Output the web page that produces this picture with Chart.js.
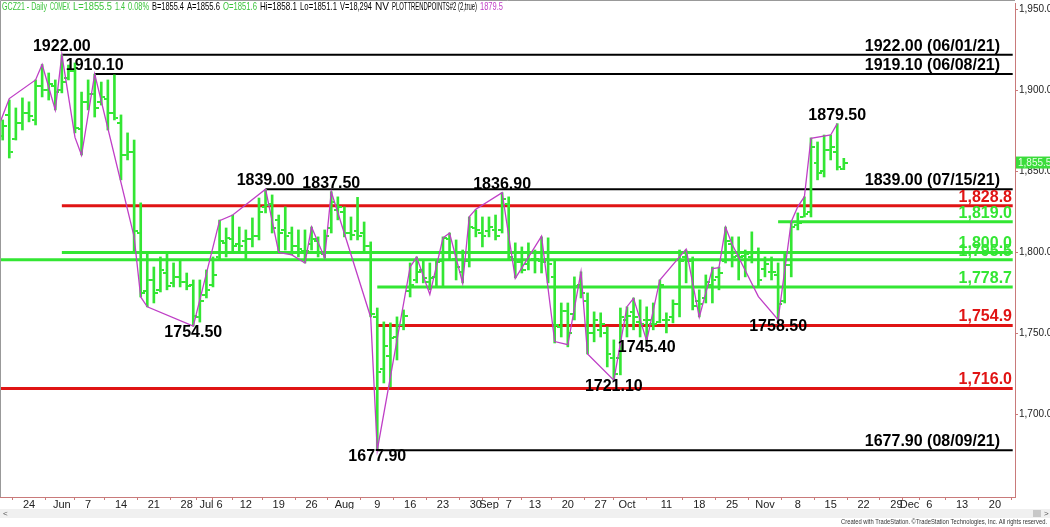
<!DOCTYPE html>
<html>
<head>
<meta charset="utf-8">
<script src="https://cdn.jsdelivr.net/npm/chart.js@4.4.1/dist/chart.umd.min.js"></script>
<style>
  html, body { margin: 0; padding: 0; background: #fff; }
</style>
</head>
<body>
<canvas id="gcChart" width="1050" height="527"></canvas>
<script>
// GCZ21 daily bars. x is a trading-day index, 0 = May 24
const firstBar = -4;
const opens = [
  1872, 1885, 1870, 1880, 1886, 1882, 1903, 1900, 1903, 1900,
  1908, 1912, 1876, 1893, 1898, 1893, 1895, 1886, 1880, 1860,
  1862, 1812, 1776, 1783, 1777, 1787, 1781, 1785, 1782, 1780,
  1760, 1774, 1780, 1797, 1806, 1808, 1805, 1807, 1808, 1810,
  1828, 1830, 1820, 1814, 1812, 1804, 1801, 1805, 1807, 1799,
  1815, 1826, 1825, 1812, 1813, 1812, 1804, 1760, 1728, 1736,
  1748, 1755, 1776, 1783, 1789, 1782, 1785, 1795, 1808, 1796,
  1788, 1795, 1815, 1812, 1813, 1814, 1814, 1830, 1796, 1794,
  1793, 1796, 1795, 1796, 1785, 1754, 1764, 1762, 1780, 1770,
  1750, 1752, 1750, 1735, 1735, 1758, 1763, 1757, 1758, 1756,
  1757, 1758, 1760, 1768, 1797, 1795, 1770, 1772, 1780, 1785,
  1795, 1805, 1798, 1798, 1797, 1800, 1790, 1788, 1786, 1770,
  1792, 1817, 1822, 1825, 1855, 1850, 1863, 1862, 1851.6
];
const highs = [
  1881.8, 1894.1, 1889.2, 1895.4, 1893.0, 1906.5, 1916.0, 1910.8, 1906.5, 1922.0,
  1915.7, 1917.0, 1899.0, 1906.5, 1910.1, 1905.2, 1906.5, 1909.6, 1884.9, 1873.8,
  1869.4, 1830.6, 1799.7, 1791.0, 1797.2, 1799.7, 1793.5, 1795.4, 1787.3, 1783.0,
  1783.0, 1789.2, 1797.2, 1820.0, 1815.1, 1823.1, 1815.7, 1813.9, 1821.3, 1833.6,
  1839.0, 1835.5, 1823.1, 1828.1, 1815.7, 1813.9, 1813.9, 1815.7, 1809.6, 1813.9,
  1837.5, 1834.3, 1828.1, 1821.9, 1834.0, 1818.8, 1806.5, 1765.7, 1757.1, 1756.5,
  1760.2, 1764.5, 1793.5, 1797.2, 1795.4, 1793.5, 1795.4, 1809.6, 1812.0, 1807.7,
  1801.5, 1821.9, 1826.2, 1821.9, 1821.9, 1823.1, 1836.9, 1834.3, 1805.9, 1803.4,
  1805.9, 1801.5, 1809.6, 1809.0, 1795.4, 1768.8, 1768.8, 1784.9, 1788.0, 1775.0,
  1763.3, 1762.7, 1754.0, 1746.0, 1765.7, 1766.4, 1771.9, 1770.7, 1766.4, 1768.8,
  1783.0, 1762.7, 1770.7, 1801.5, 1801.5, 1797.2, 1776.9, 1786.1, 1791.0, 1791.0,
  1815.7, 1809.6, 1809.6, 1801.5, 1812.7, 1802.8, 1797.2, 1797.2, 1793.5, 1799.7,
  1818.8, 1824.4, 1834.3, 1870.7, 1868.2, 1872.5, 1872.5, 1879.5, 1858.1
];
const lows = [
  1869.4, 1858.3, 1869.4, 1875.6, 1880.6, 1878.7, 1896.0, 1894.1, 1888.0, 1898.5,
  1906.5, 1873.8, 1860.2, 1888.0, 1883.6, 1891.0, 1875.6, 1881.8, 1844.8, 1857.1,
  1799.7, 1772.5, 1766.4, 1768.8, 1775.6, 1776.9, 1778.7, 1778.7, 1776.9, 1754.5,
  1757.0, 1771.9, 1778.7, 1795.4, 1797.2, 1799.7, 1799.7, 1795.4, 1803.4, 1807.7,
  1824.4, 1812.0, 1799.7, 1801.5, 1798.5, 1797.2, 1793.5, 1801.5, 1797.2, 1796.6,
  1812.0, 1820.1, 1809.6, 1807.7, 1807.7, 1800.3, 1760.2, 1677.9, 1719.4, 1717.0,
  1733.6, 1752.2, 1772.5, 1781.2, 1781.2, 1776.9, 1778.7, 1778.7, 1795.4, 1783.0,
  1781.2, 1791.0, 1809.6, 1803.4, 1809.6, 1807.7, 1812.0, 1795.4, 1784.3, 1787.3,
  1789.2, 1787.3, 1787.3, 1781.2, 1744.1, 1747.8, 1741.7, 1758.3, 1771.9, 1737.3,
  1744.8, 1747.8, 1729.3, 1721.1, 1724.4, 1747.8, 1752.2, 1747.8, 1745.4, 1752.2,
  1756.5, 1750.3, 1756.5, 1760.2, 1781.2, 1764.5, 1760.2, 1768.8, 1768.8, 1776.9,
  1793.5, 1791.0, 1783.0, 1784.9, 1793.5, 1778.7, 1784.9, 1783.0, 1758.5, 1768.8,
  1784.9, 1813.9, 1821.9, 1821.9, 1844.8, 1846.6, 1857.1, 1850.9, 1851.1
];
const closes = [
  1878, 1862, 1880, 1886, 1884, 1903, 1900, 1904, 1899, 1905,
  1912, 1877, 1893, 1898, 1889, 1896, 1886, 1883, 1860, 1862,
  1813, 1775, 1783, 1775, 1789, 1779, 1785, 1782, 1779, 1761,
  1770, 1777, 1786, 1807, 1809, 1804, 1804, 1808, 1810, 1825,
  1829, 1815, 1812, 1810, 1804, 1802, 1801, 1808, 1800, 1810,
  1831, 1828, 1812, 1811, 1810, 1804, 1762, 1726, 1742, 1747,
  1755, 1761, 1780, 1788, 1784, 1784, 1794, 1809, 1800, 1791,
  1795, 1816, 1814, 1810, 1816, 1810, 1833, 1797, 1794, 1789,
  1800, 1796, 1794, 1793, 1755, 1764, 1750, 1779, 1775, 1750,
  1758, 1756, 1737, 1725, 1760, 1761, 1760, 1756, 1758, 1756,
  1780, 1758, 1768, 1795, 1795, 1767, 1768, 1782, 1783, 1787,
  1807, 1797, 1797, 1799, 1800, 1783, 1793, 1788, 1768, 1792,
  1816, 1818, 1824, 1865, 1849, 1863, 1865, 1853, 1855.5
];

// date axis
const tickDays = [0, 5, 9, 14, 19, 24, 27, 29, 33, 38, 43, 48, 53, 58, 63, 68, 70, 73, 77,
  82, 87, 91, 97, 102, 107, 112, 117, 122, 127, 132, 134, 137, 142, 147];
const tickLabels = ['24', 'Jun', '7', '14', '21', '28', 'Jul', '6', '12', '19', '26', 'Aug', '9',
  '16', '23', '30', 'Sep', '7', '13', '20', '27', 'Oct', '11', '18', '25', 'Nov', '8', '15', '22',
  '29', 'Dec', '6', '13', '20'];
const priceTicks = [1700, 1750, 1800, 1850, 1900, 1950];

// PLOTTRENDPOINTS zigzag
const zigDays = [-5, -3, 1, 2, 4, 5, 7, 8, 10, 16, 17, 18, 25, 29, 31, 36, 38, 40, 42, 43, 45, 46,
  52, 53, 58, 59, 61, 63, 64, 66, 67, 68, 72, 74, 78, 80, 82, 84, 85, 89, 91, 92, 94, 96, 100, 102,
  104, 105, 106, 107, 111, 114, 116, 117, 118, 119, 122, 123];
const zigPrices = [1874, 1895, 1906.5, 1916, 1888, 1922, 1871, 1860, 1910.1, 1809.6, 1772.5, 1766.4,
  1754.5, 1819.6, 1823.1, 1839, 1800, 1798.5, 1793.5, 1815.7, 1796.6, 1837.5, 1760, 1677.9, 1791,
  1797, 1774, 1809, 1812, 1781, 1822, 1826.7, 1836.9, 1784, 1810, 1745, 1743, 1788, 1737.3, 1721.1,
  1766.5, 1771.7, 1745.4, 1783, 1802, 1760, 1790, 1790.6, 1815.5, 1805, 1772.7, 1758.5, 1819, 1828.3,
  1834.4, 1870.5, 1872.5, 1879.5];

// labelled swing points
const swingDays = [5, 10, 36, 46, 25, 72, 53, 89, 94, 114, 123];
const swingPrices = [1922.00, 1910.10, 1839.00, 1837.50, 1754.50, 1836.90, 1677.90, 1721.10, 1745.40, 1758.50, 1879.50];
const swingIsHigh = [true, true, true, true, false, true, false, false, false, false, true];

// horizontal levels
const levelPrices = [1922.00, 1910.10, 1839.00, 1677.90, 1828.8, 1819.0, 1800.0, 1795.5, 1778.7, 1754.9, 1716.0];
const levelStart = [5, 10, 36, 53, 5, 114, 5, -6, 53, 53, -6];
const levelTexts = ['1922.00 (06/01/21)', '1919.10 (06/08/21)', '1839.00 (07/15/21)', '1677.90 (08/09/21)',
  '1,828.8', '1,819.0', '1,800.0', '1,795.5', '1,778.7', '1,754.9', '1,716.0'];
const levelKinds = ['swing', 'swing', 'swing', 'swing', 'red', 'green', 'green', 'green', 'green', 'red', 'red'];

const lastPrice = 1855.5;

const GREEN = '#33e633';
const RED = '#e01414';
const MAGENTA = '#bf3fc6';
const AXIS = '#c97a7a';
const levelEnd = 149.7;

const kindStyle = {
  swing: { color: '#000000', width: 2 },
  red: { color: RED, width: 3 },
  green: { color: GREEN, width: 3 }
};

function tickImage(side) {
  const c = document.createElement('canvas');
  c.width = 8;
  c.height = 2;
  const g = c.getContext('2d');
  g.fillStyle = GREEN;
  g.fillRect(side === 'open' ? 0 : 5, 0, 3, 2);
  return c;
}

const levelSets = levelPrices.map((p, i) => ({
  type: 'line',
  data: [{ x: levelStart[i], y: p }, { x: levelEnd, y: p }],
  borderColor: kindStyle[levelKinds[i]].color,
  borderWidth: kindStyle[levelKinds[i]].width,
  pointRadius: 0,
  order: 5
}));

const overlay = {
  id: 'overlay',
  beforeDraw(chart) {
    const ctx = chart.ctx;
    ctx.save();
    ctx.fillStyle = '#fff';
    ctx.fillRect(0, 0, chart.width, chart.height);
    ctx.restore();
  },
  afterDraw(chart) {
    const ctx = chart.ctx;
    const xs = chart.scales.x, ys = chart.scales.y;
    const area = chart.chartArea;
    ctx.save();

    // frame
    ctx.strokeStyle = '#999';
    ctx.lineWidth = 1;
    ctx.beginPath();
    ctx.moveTo(0.5, area.bottom);
    ctx.lineTo(0.5, 0.5);
    ctx.lineTo(area.right, 0.5);
    ctx.stroke();

    // level texts
    ctx.font = 'bold 16px Arial, "Liberation Sans", sans-serif';
    ctx.textAlign = 'right';
    ctx.textBaseline = 'alphabetic';
    levelPrices.forEach((p, i) => {
      const y = ys.getPixelForValue(p);
      const k = levelKinds[i];
      ctx.fillStyle = k === 'swing' ? '#000' : kindStyle[k].color;
      const xr = k === 'swing' ? area.right - 15 : area.right - 3;
      ctx.fillText(levelTexts[i], xr, y - 4);
    });

    // swing labels
    ctx.textAlign = 'center';
    ctx.fillStyle = '#000';
    swingDays.forEach((d, i) => {
      const x = xs.getPixelForValue(d);
      const y = ys.getPixelForValue(swingPrices[i]);
      ctx.fillText(swingPrices[i].toFixed(2), x, swingIsHigh[i] ? y - 4 : y + 11);
    });

    // last price box
    const ly = ys.getPixelForValue(lastPrice);
    ctx.fillStyle = '#3bdc3b';
    ctx.fillRect(area.right + 1, ly - 6, 34, 12);
    ctx.fillStyle = '#e8ffe8';
    ctx.font = '10px Arial, sans-serif';
    ctx.textAlign = 'left';
    ctx.textBaseline = 'middle';
    ctx.fillText(lastPrice.toLocaleString('en-US', { minimumFractionDigits: 1 }), area.right + 3, ly + 0.5);

    // header
    const header = [
      ['GCZ21 - Daily', 2, '#3cc43c'], ['COMEX', 50, '#3cc43c'], ['L=1855.5', 73, '#3cc43c'],
      ['1.4', 115, '#3cc43c'], ['0.08%', 128, '#3cc43c'], ['B=1855.4', 152, '#000'],
      ['A=1855.6', 187, '#000'], ['O=1851.6', 223, '#3cc43c'], ['Hi=1858.1', 260, '#000'],
      ['Lo=1851.1', 300, '#000'], ['V=18,294', 340, '#000'], ['NV', 375, '#000'],
      ['PLOTTRENDPOINTS#2 (2,true)', 392, '#000'], ['1879.5', 480, MAGENTA]
    ];
    ctx.font = '11px Arial, sans-serif';
    ctx.textBaseline = 'middle';
    header.forEach((h, i) => {
      const next = i + 1 < header.length ? header[i + 1][1] : h[1] + 26;
      ctx.fillStyle = h[2];
      ctx.fillText(h[0], h[1], 7, next - h[1] - 3);
    });

    // scrollbar strip and footer
    ctx.fillStyle = '#f0f0f0';
    ctx.fillRect(0, 509, chart.width, 9);
    ctx.fillStyle = '#c8c8c8';
    ctx.fillRect(1033, 510, 8, 7);
    ctx.fillStyle = '#555';
    ctx.font = '8px Arial, sans-serif';
    ctx.fillText('<', 3, 514);
    ctx.fillText('>', 1044, 514);
    ctx.fillStyle = '#333';
    ctx.textAlign = 'right';
    ctx.font = '8px Arial, sans-serif';
    ctx.fillText('Created with TradeStation. \u00A9TradeStation Technologies, Inc. All rights reserved.', 1047, 522, 206);
    ctx.restore();
  }
};

const barData = highs.map((h, i) => ({ x: firstBar + i, y: [lows[i], h] }));

new Chart(document.getElementById('gcChart'), {
  type: 'bar',
  data: {
    datasets: [
      ...levelSets,
      {
        type: 'bar',
        data: barData,
        backgroundColor: GREEN,
        barThickness: 2,
        borderWidth: 0,
        order: 3
      },
      {
        type: 'scatter',
        data: opens.map((o, i) => ({ x: firstBar + i, y: o })),
        pointStyle: tickImage('open'),
        pointRadius: 3,
        order: 3
      },
      {
        type: 'scatter',
        data: closes.map((c, i) => ({ x: firstBar + i, y: c })),
        pointStyle: tickImage('close'),
        pointRadius: 3,
        order: 3
      },
      {
        type: 'line',
        data: zigDays.map((d, i) => ({ x: d, y: zigPrices[i] })),
        borderColor: MAGENTA,
        borderWidth: 1.3,
        pointRadius: 0,
        tension: 0,
        order: 1
      }
    ]
  },
  options: {
    responsive: false,
    animation: false,
    devicePixelRatio: 1,
    layout: { autoPadding: false, padding: { top: 3, left: 0, right: 0, bottom: 0 } },
    plugins: { legend: { display: false }, tooltip: { enabled: false } },
    scales: {
      x: {
        type: 'linear',
        min: -4.413,
        max: 150.05,
        offset: false,
        afterBuildTicks: s => { s.ticks = tickDays.map(v => ({ value: v })); },
        afterFit: s => { s.height = 30; s.paddingLeft = 0; s.paddingRight = 0; },
        ticks: {
          autoSkip: false,
          maxRotation: 0,
          padding: -2,
          color: '#222',
          font: { size: 11, family: 'Arial, "Liberation Sans", sans-serif' },
          callback: v => tickLabels[tickDays.indexOf(v)]
        },
        grid: { drawOnChartArea: false, tickLength: 3, color: AXIS },
        border: { color: AXIS }
      },
      y: {
        position: 'right',
        min: 1649,
        max: 1954,
        afterBuildTicks: s => { s.ticks = priceTicks.map(v => ({ value: v })); },
        afterFit: s => { s.width = 35; s.paddingTop = 0; s.paddingBottom = 0; },
        ticks: {
          padding: 1,
          color: '#222',
          font: { size: 10, family: 'Arial, "Liberation Sans", sans-serif' },
          callback: v => v.toLocaleString('en-US', { minimumFractionDigits: 1 })
        },
        grid: { drawOnChartArea: false, tickLength: 3, color: AXIS },
        border: { color: AXIS }
      }
    }
  },
  plugins: [overlay]
});
</script>
</body>
</html>
